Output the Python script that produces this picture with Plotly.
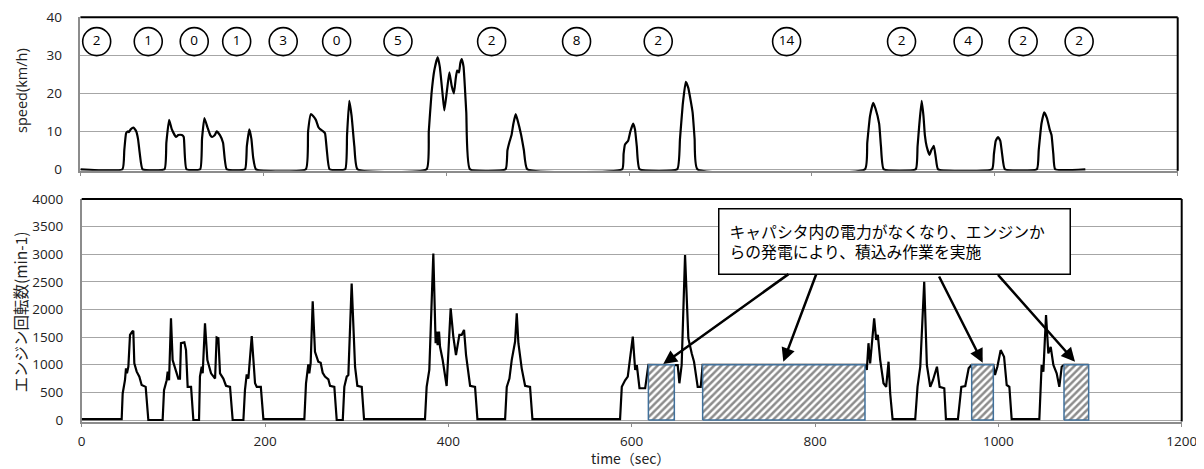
import plotly.graph_objects as go

# ---------------- data ----------------
# vehicle speed (km/h) vs time (sec)
speed_t = [0, 46, 48, 50, 52, 53, 55, 58, 61, 63, 65, 68,
           92, 94, 97, 100, 104.5, 107, 111, 113, 116,
           131, 133, 135.6, 139, 142, 144, 147, 149, 152.6, 156, 160,
           180, 182, 184.7, 187, 189, 192,
           246.5, 249, 252, 254.5, 257.5, 260.5, 262.5, 265.5, 267.5, 269.5, 272.5,
           289.6, 291.6, 294, 296.6, 299.6, 303,
           378.6, 381, 384, 387, 390.7, 393, 396, 398, 401, 403.5, 406, 408.5, 410.5, 412, 414, 415.5, 417, 419, 422, 426,
           465, 467, 469, 471.5, 473.5, 476, 478, 482, 485, 488.7,
           592.5, 594, 595.5, 599, 601.5, 604.5, 606.5, 608.5, 611.5,
           652.7, 655.7, 658.7, 662, 664.7, 669.5, 671.7, 674.7,
           858, 860.5, 863.5, 867, 869.5, 873.5, 875.5, 878.5,
           913.5, 915.5, 917.5, 920, 922, 923.5, 925.5, 928.5, 930.5, 933.3, 935.5, 938,
           997, 999, 1001, 1003.5, 1006, 1008, 1011,
           1046, 1048, 1051, 1054, 1057, 1060, 1062, 1064, 1066,
           1099]
speed_v = [0, 0, 5, 9.5, 10, 9.8, 10.5, 11, 10, 8, 4, 0,
           0, 7, 13, 10.5, 8.5, 9, 9, 8.5, 0,
           0, 8, 13.5, 11, 9, 8.5, 9, 10, 9, 7, 0,
           0, 6, 10.5, 8, 3, 0,
           0, 10, 14.5, 14, 13, 11, 10.5, 10, 9.5, 5, 0,
           0, 9, 18, 14, 6, 0,
           0, 10, 20, 26, 29.5, 27, 20, 15.5, 21, 25.5, 22, 20, 24, 26, 25.5, 28, 29, 27, 15, 0,
           0, 5, 7, 9, 12, 14.5, 13, 9, 5, 0,
           0, 4, 6.5, 7.5, 10, 12, 10.5, 6, 0,
           0, 8, 17, 23, 21.5, 15, 8, 0,
           0, 7, 14, 17.5, 16, 12, 6, 0,
           0, 6, 12, 18, 14, 9, 6, 3.8, 5, 6.2, 3, 0,
           0, 4, 7.5, 8.5, 7.5, 4, 0,
           0, 5, 12, 15, 13.5, 10.5, 9, 4, 0,
           0]

# circled counts shown along the top of the speed chart
count_t = [17.8, 74.2, 124.5, 170.9, 221.8, 280.2, 347.3, 449.7, 542.6, 631.9,
           772.3, 898, 970.8, 1031, 1092.2]
count_labels = ["2", "1", "0", "1", "3", "0", "5", "2", "8", "2",
                "14", "2", "4", "2", "2"]

# engine speed (min-1) vs time (sec)
eng_t = [0, 43.6, 44.7, 47.2, 48.3, 49.4, 50.9, 52.7, 55.2, 56.3, 57.4, 60, 62.9, 65.4, 69.8, 72.7,
         88.3, 89.8, 92.7, 93.8, 95.3, 97.4, 99.2, 101.8, 105.4, 107.2, 108.3, 112, 113.8, 115.6, 119.3, 121.8,
         128, 129, 130.9, 132, 134.5, 137.1, 141.1, 145.5, 147.2, 149.1, 150.9, 154.5, 157.4, 161.8, 164.7,
         176.4, 178.1, 180, 181.8, 185.5, 189.1, 191, 195.4, 198.2,
         242.9, 244.7, 247.2, 248.3, 249.8, 252, 254.5, 258.1, 260.7, 262.9, 265.4, 269.1, 270.9, 275.6, 278.2,
         284.8, 286.5, 289.1, 290.9, 294.5, 298.2, 300.7, 305.5, 308,
         374.5, 376.3, 379.2, 383.6, 386.1, 387.2, 388.3, 389.8, 390.9, 393.8, 398.1, 402.5, 405.4, 408.3,
         412, 414.5, 417.1, 419.3, 423.7, 429.1, 431.7,
         461.9, 463.7, 466.6, 469.1, 472.8, 474.6, 476.4, 480, 483.7, 489.1, 491.7,
         587.3, 589.2, 592.8, 595.7, 601.2, 603.8, 605.6, 608.5, 614.7, 618.2, 646.5,
         650.2, 652, 654.5, 658.2, 661.8, 665.5, 668, 672, 675.3, 677.4, 854.5,
         856.5, 858.3, 860.1, 862, 864.5, 866.7, 868.5, 871.1, 874.7, 877.6, 880.2, 882, 884.6,
         909.3, 911.8, 914.8, 919.1, 922, 925.7, 928.6, 933, 935.9, 941, 942.8,
         955.9, 959.6, 963.9, 967.6, 970.9, 994.5,
         996.3, 998.9, 1002.5, 1006.2, 1009.1, 1012, 1014.5,
         1044.7, 1047.2, 1049.1, 1052, 1054.5, 1057.1, 1060, 1063.6, 1066.5, 1069.1, 1071.6, 1098.5]
eng_rpm = [15, 15, 480, 720, 935, 845, 965, 1540, 1600, 1615, 1025, 875, 785, 633, 600, 0,
           0, 540, 720, 875, 720, 1840, 1085, 935, 750, 750, 1390, 1405, 1265, 600, 600, 0,
           0, 785, 965, 845, 1750, 1085, 845, 750, 1495, 1480, 845, 750, 620, 600, 0,
           0, 540, 825, 750, 1520, 665, 600, 600, 15,
           15, 665, 1005, 845, 1035, 2150, 1235, 1055, 1035, 855, 785, 735, 620, 600, 0,
           0, 600, 785, 815, 2470, 965, 620, 600, 15,
           15, 600, 905, 3015, 1390, 1600, 1355, 1600, 1325, 1085, 615, 2020, 1510, 1175,
           1540, 1540, 1630, 1175, 620, 600, 15,
           15, 600, 750, 1085, 1420, 1930, 1390, 935, 620, 600, 15,
           15, 600, 720, 785, 1510, 905, 995, 575, 575, 1000, 1000,
           995, 665, 995, 2985, 1480, 1205, 1055, 600, 600, 1000, 1000,
           905, 1390, 1025, 1390, 1840, 1450, 1540, 1085, 665, 600, 1055, 480, 15,
           15, 600, 965, 2500, 995, 600, 720, 965, 600, 575, 15,
           15, 600, 615, 935, 1000, 1000,
           815, 965, 1265, 1145, 633, 600, 15,
           15, 995, 875, 1900, 1205, 1325, 995, 845, 600, 965, 1000, 1000]

# periods of loading work powered by engine generation (hatched boxes)
box_start = [618.2, 677.4, 970.9, 1071.6]
box_end = [646.5, 854.5, 994.5, 1098.5]
box_level = [1000, 1000, 1000, 1000]

callout_text = "キャパシタ内の電力がなくなり、エンジンか<br>らの発電により、積込み作業を実施"
# arrows: (head_t, head_rpm, tail_t, tail_rpm)
arrow_head_t = [634.4, 765.4, 982.9, 1083.6]
arrow_head_v = [1013, 1055, 1037, 1055]
arrow_tail_t = [772.7, 801.8, 934.5, 998.2]
arrow_tail_v = [2660, 2660, 2624, 2655]

# ---------------- figure ----------------
# the page body has an 8px margin, so the figure is laid out in shifted pixels
OFF = 8
W, H = 1204 - OFF, 469 - OFF


def fx(px):
    return (px - OFF) / W


def fy(py):
    return 1 - (py - OFF) / H


TXT = "#222222"
GRID = "#a6a6a6"
AXL = "#8c8c8c"
LATIN = "Open Sans"
JP = "Noto Sans CJK JP"

fig = go.Figure()

fig.add_trace(go.Scatter(x=speed_t, y=speed_v, mode="lines", cliponaxis=False,
                         line=dict(color="black", width=2.2, shape="spline", smoothing=0.4),
                         xaxis="x", yaxis="y", showlegend=False, hoverinfo="skip"))
fig.add_trace(go.Scatter(x=count_t, y=[33.6] * len(count_t), mode="markers+text",
                         text=count_labels, textposition="middle center",
                         textfont=dict(family=LATIN, size=13.5, color="black"),
                         marker=dict(symbol="circle", size=28, color="white",
                                     line=dict(color="black", width=1.6)),
                         xaxis="x", yaxis="y", showlegend=False, hoverinfo="skip"))

fig.add_trace(go.Scatter(x=eng_t, y=eng_rpm, mode="lines", cliponaxis=False,
                         line=dict(color="black", width=2.2),
                         xaxis="x2", yaxis="y2", showlegend=False, hoverinfo="skip"))

# hatched boxes built from box arrays
bx, by = [], []
for s, e, lv in zip(box_start, box_end, box_level):
    bx += [s, e, e, s, s, None]
    by += [0, 0, lv, lv, 0, None]
fig.add_trace(go.Scatter(x=bx, y=by, mode="lines", fill="toself", cliponaxis=False,
                         fillpattern=dict(shape="/", fgcolor="#1a1a1a", bgcolor="white",
                                          size=5, solidity=0.5),
                         line=dict(color="#41719C", width=1.5),
                         xaxis="x2", yaxis="y2", showlegend=False, hoverinfo="skip"))

# axis line sits ~1.5px below the zero level, so the zero-level line is fully visible
top_dom = [fy(170.8), fy(17.3)]
bot_dom = [fy(421.5), fy(199)]

common_y = dict(showline=True, linecolor=AXL, linewidth=1.5, showgrid=True, gridcolor=GRID,
                gridwidth=1, zeroline=False, ticks="", ticklabelstandoff=14, automargin=False,
                layer="below traces",
                tickfont=dict(family=LATIN, size=13.5, color=TXT))

fig.update_layout(
    width=W, height=H, margin=dict(l=0, r=0, t=0, b=0, autoexpand=False),
    paper_bgcolor="white", plot_bgcolor="white",
    xaxis=dict(domain=[fx(80.4), fx(1177.7)], range=[0, 1200], dtick=200,
               showticklabels=False, showgrid=False, zeroline=False,
               showline=True, linecolor=AXL, linewidth=1.5, automargin=False,
               layer="below traces",
               ticks="outside", ticklen=3, tickcolor=AXL, anchor="y"),
    yaxis=dict(domain=top_dom, range=[-0.4, 40], tickvals=[0, 10, 20, 30, 40],
               anchor="x", **common_y),
    xaxis2=dict(domain=[fx(81.7), fx(1181.7)], range=[0, 1200], dtick=200,
                showgrid=False, zeroline=False, showline=True, linecolor=AXL, linewidth=2,
                automargin=False, layer="below traces",
                ticks="outside", ticklen=3, tickcolor=AXL, ticklabelstandoff=3,
                tickfont=dict(family=LATIN, size=13.5, color=TXT), anchor="y2"),
    yaxis2=dict(domain=bot_dom, range=[-27, 4000],
                tickvals=[0, 500, 1000, 1500, 2000, 2500, 3000, 3500, 4000],
                anchor="x2", **common_y),
)

# black frame on top and right of each panel
for xr, yr in (("x domain", "y domain"), ("x2 domain", "y2 domain")):
    fig.add_shape(type="line", xref=xr, yref=yr, x0=0, x1=1, y0=1, y1=1,
                  line=dict(color="black", width=2))
    fig.add_shape(type="line", xref=xr, yref=yr, x0=1, x1=1, y0=0, y1=1,
                  line=dict(color="black", width=2))

# axis titles
fig.add_annotation(xref="paper", yref="paper", x=fx(21), y=fy(91), text="speed(km/h)",
                   xanchor="center", yanchor="middle",
                   textangle=-90, showarrow=False, font=dict(family=LATIN, size=14.5, color=TXT))
fig.add_annotation(xref="paper", yref="paper", x=fx(19.5), y=fy(312),
                   xanchor="center", yanchor="middle",
                   text="エンジン回転数(min-1)", textangle=-90, showarrow=False,
                   font=dict(family=JP, size=15.5, color=TXT))
fig.add_annotation(xref="paper", yref="paper", x=fx(630), y=fy(457.5), text="time（sec）",
                   xanchor="center", yanchor="middle",
                   showarrow=False, font=dict(family=JP, size=14, color=TXT))

# callout box
fig.add_annotation(xref="x2", yref="y2", x=694.6, y=3843, xanchor="left", yanchor="top",
                   text=callout_text, showarrow=False, align="left", valign="middle",
                   width=330, height=44, borderpad=10, bordercolor="black", borderwidth=1.5,
                   bgcolor="white", font=dict(family=JP, size=15.8, color="black"))

for hx, hy, tx, ty in zip(arrow_head_t, arrow_head_v, arrow_tail_t, arrow_tail_v):
    fig.add_annotation(xref="x2", yref="y2", x=hx, y=hy, ax=tx, ay=ty,
                       axref="x2", ayref="y2", text="", showarrow=True,
                       arrowhead=2, arrowsize=1.1, arrowwidth=2.5, arrowcolor="black",
                       standoff=0)

fig.write_html("out.html")
